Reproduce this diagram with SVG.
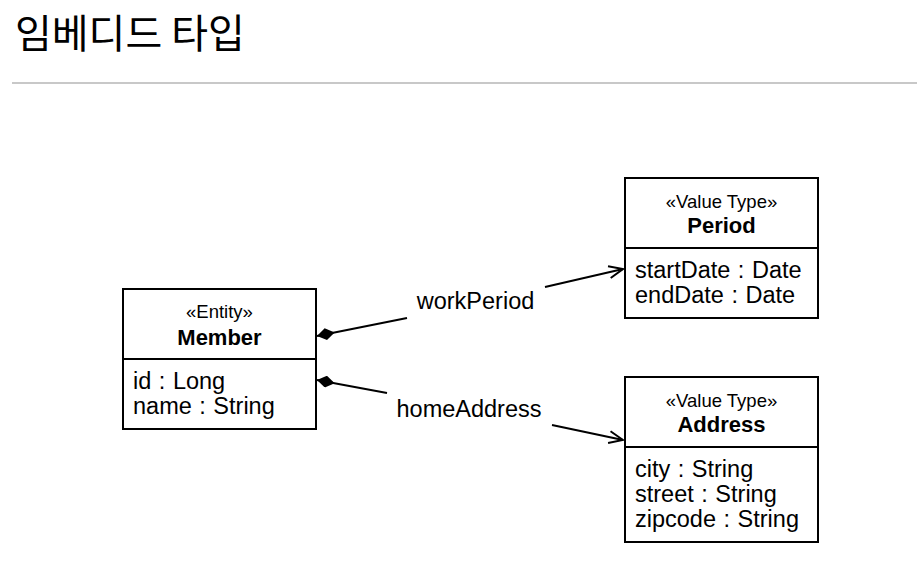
<svg xmlns="http://www.w3.org/2000/svg" width="917" height="586" viewBox="0 0 917 586">
<style>
text{font-family:"Liberation Sans","Noto Sans CJK KR",sans-serif;fill:#000}
.title{font-family:"Noto Sans CJK KR","Liberation Sans",sans-serif;font-size:40px}
.st{font-size:18.5px;text-anchor:middle}
.nm{font-size:22px;font-weight:bold;text-anchor:middle}
.at{font-size:23.5px;word-spacing:1px}
.lb{font-size:23.5px;text-anchor:middle}
.box{fill:#fff;stroke:#000;stroke-width:2}
.div{stroke:#000;stroke-width:2}
.ln{stroke:#000;stroke-width:2;fill:none}
</style>
<defs>
<marker id="dia" viewBox="0 0 18 12" refX="0" refY="6" markerWidth="18" markerHeight="12" markerUnits="userSpaceOnUse" orient="auto">
<path d="M0,6 L9,0 L18,6 L9,12 Z" fill="#000"/>
</marker>
<marker id="arr" viewBox="0 0 16 14" refX="15" refY="7" markerWidth="16" markerHeight="14" markerUnits="userSpaceOnUse" orient="auto">
<path d="M1,1 L15,7 L1,13" fill="none" stroke="#000" stroke-width="2"/>
</marker>
</defs>
<text class="title" x="15" y="48">임베디드 타입</text>
<line x1="12" y1="83" x2="917" y2="83" stroke="#c8c8c8" stroke-width="2"/>
<g id="connectors">
<line class="ln" x1="317" y1="336" x2="407" y2="318" marker-start="url(#dia)"/>
<line class="ln" x1="545" y1="287" x2="623" y2="269" marker-end="url(#arr)"/>
<text class="lb" x="475.5" y="309">workPeriod</text>
<line class="ln" x1="317" y1="380" x2="387" y2="393" marker-start="url(#dia)"/>
<line class="ln" x1="552" y1="425" x2="623" y2="440" marker-end="url(#arr)"/>
<text class="lb" x="469" y="417">homeAddress</text>
</g>
<g id="member">
<rect class="box" x="123" y="289" width="193" height="140"/>
<line class="div" x1="123" y1="359" x2="316" y2="359"/>
<text class="st" x="219.5" y="318">«Entity»</text>
<text class="nm" x="219.5" y="345">Member</text>
<text class="at" x="133" y="389">id : Long</text>
<text class="at" x="133" y="414">name : String</text>
</g>
<g id="period">
<rect class="box" x="625" y="178" width="193" height="140"/>
<line class="div" x1="625" y1="248" x2="818" y2="248"/>
<text class="st" x="721.5" y="208">«Value Type»</text>
<text class="nm" x="721.5" y="233">Period</text>
<text class="at" x="635" y="278">startDate : Date</text>
<text class="at" x="635" y="303">endDate : Date</text>
</g>
<g id="address">
<rect class="box" x="625" y="377" width="193" height="165"/>
<line class="div" x1="625" y1="447" x2="818" y2="447"/>
<text class="st" x="721.5" y="407">«Value Type»</text>
<text class="nm" x="721.5" y="432">Address</text>
<text class="at" x="635" y="477">city : String</text>
<text class="at" x="635" y="502">street : String</text>
<text class="at" x="635" y="527">zipcode : String</text>
</g>
</svg>
